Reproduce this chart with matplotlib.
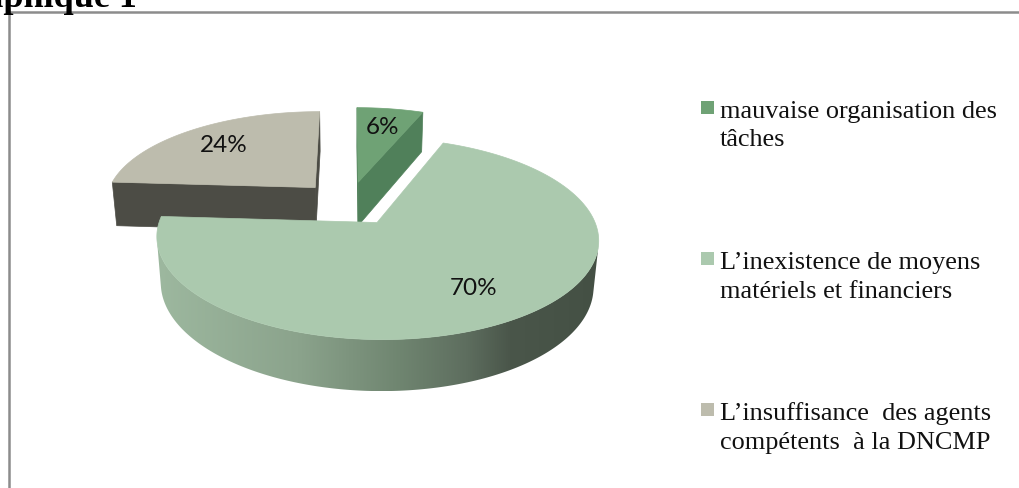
import numpy as np
import matplotlib.pyplot as plt
from matplotlib.patches import Polygon, Rectangle
from matplotlib.colors import LinearSegmentedColormap

# données
valeurs = [6, 70, 24]
etiquettes = ["6%", "70%", "24%"]
legende = ["mauvaise organisation des\ntâches",
           "L’inexistence de moyens\nmatériels et financiers",
           "L’insuffisance  des agents\ncompétents  à la DNCMP"]
couleurs_dessus = ["#6fa275", "#abc9ae", "#bdbcad"]
couleurs_cote = ["#50805a", "#6a806b", "#4c4c45"]

# vue 3D (camera en perspective)
elev = np.radians(28)
dist = 5.8
F = 1201
cx, cy = 349, 248
h = 0.24
eclat = 0.24
cam = np.array([0, dist * np.cos(elev), dist * np.sin(elev)])


def proj(x, y, z):
    x = np.asarray(x, float)
    y = np.asarray(y, float)
    z = np.asarray(z, float)
    prof = dist - (y * np.cos(elev) + z * np.sin(elev))
    haut = -y * np.sin(elev) + z * np.cos(elev)
    return cx + F * x / prof, cy - F * haut / prof


def poly(ax, xs, ys, zs, couleur):
    px, py = proj(xs, ys, zs)
    p = Polygon(np.column_stack([px, py]), closed=True, facecolor=couleur,
                edgecolor=couleur, lw=0.5)
    ax.add_patch(p)
    return p


fig = plt.figure(figsize=(10.19, 4.88), dpi=100)
ax = fig.add_axes([0, 0, 1, 1])
ax.set_xlim(0, 1019)
ax.set_ylim(488, 0)
ax.axis("off")

# cadre
ax.add_patch(Rectangle((9.5, 12), 1200, 600, fill=False, edgecolor="#8c8c8c", lw=1.8))

total = sum(valeurs)
bornes = np.concatenate([[0], np.cumsum(valeurs)]) / total * 2 * np.pi

degrade = LinearSegmentedColormap.from_list(
    "cote", [(0, "#9db89f"), (0.32, "#8ba38c"), (0.55, "#6f8570"),
             (0.7, "#5e6e5f"), (0.8, "#4a564a"), (1, "#445044")])

for i in [2, 0, 1]:
    t1, t2 = bornes[i], bornes[i + 1]
    mid = (t1 + t2) / 2
    ox, oy = eclat * np.sin(mid), -eclat * np.cos(mid)
    th = np.linspace(t1, t2, 300)
    rx = ox + np.sin(th)
    ry = oy - np.cos(th)

    # faces radiales
    for t, n in [(t1, (-np.cos(t1), -np.sin(t1))), (t2, (np.cos(t2), np.sin(t2)))]:
        pm = np.array([ox + 0.5 * np.sin(t), oy - 0.5 * np.cos(t), h / 2])
        if (cam[0] - pm[0]) * n[0] + (cam[1] - pm[1]) * n[1] > 0:
            ex, ey = ox + np.sin(t), oy - np.cos(t)
            poly(ax, [ox, ex, ex, ox], [oy, ey, ey, oy], [h, h, 0, 0], couleurs_cote[i])

    # paroi extérieure
    vis = (cam[0] - rx) * np.sin(th) + (cam[1] - ry) * (-np.cos(th)) > 0
    if vis.any():
        idx = np.where(vis)[0]
        runs = np.split(idx, np.where(np.diff(idx) > 1)[0] + 1)
        for r in runs:
            xs = np.concatenate([rx[r], rx[r][::-1]])
            ys = np.concatenate([ry[r], ry[r][::-1]])
            zs = np.concatenate([np.full(len(r), h), np.zeros(len(r))])
            p = poly(ax, xs, ys, zs, couleurs_cote[i])
            if i == 1:
                p.set_facecolor("none")
                p.set_edgecolor("none")
                px, py = proj(xs, ys, zs)
                im = ax.imshow(np.linspace(0, 1, 256)[None, :], cmap=degrade,
                               extent=[px.min(), px.max(), py.max(), py.min()],
                               aspect="auto", interpolation="bilinear")
                im.set_clip_path(p)

    # dessus
    xs = np.concatenate([[ox], rx])
    ys = np.concatenate([[oy], ry])
    poly(ax, xs, ys, np.full(len(xs), h), couleurs_dessus[i])

    # étiquette
    lx, ly = proj(ox + 0.72 * np.sin(mid), oy - 0.72 * np.cos(mid), h)
    ax.text(lx, ly, etiquettes[i], ha="center", va="center", fontsize=17.5,
            family="Lato", color="#111111")

ax.set_xlim(0, 1019)
ax.set_ylim(488, 0)

# légende
for k, (txt, coul) in enumerate(zip(legende, couleurs_dessus)):
    base = 118 + k * 151
    ax.add_patch(Rectangle((701, base - 17), 13, 13, facecolor=coul, edgecolor="none"))
    for j, ligne in enumerate(txt.split("\n")):
        ax.text(720, base + j * 28.5, ligne, va="baseline", ha="left",
                family="Liberation Serif", fontsize=18.9, color="#111111")

fig.text(137 / 1019, 1 - 7 / 488, "Graphique 1", ha="right", va="baseline",
         family="Liberation Serif", fontweight="bold", fontsize=26)

fig.savefig("out.png", dpi=100)
